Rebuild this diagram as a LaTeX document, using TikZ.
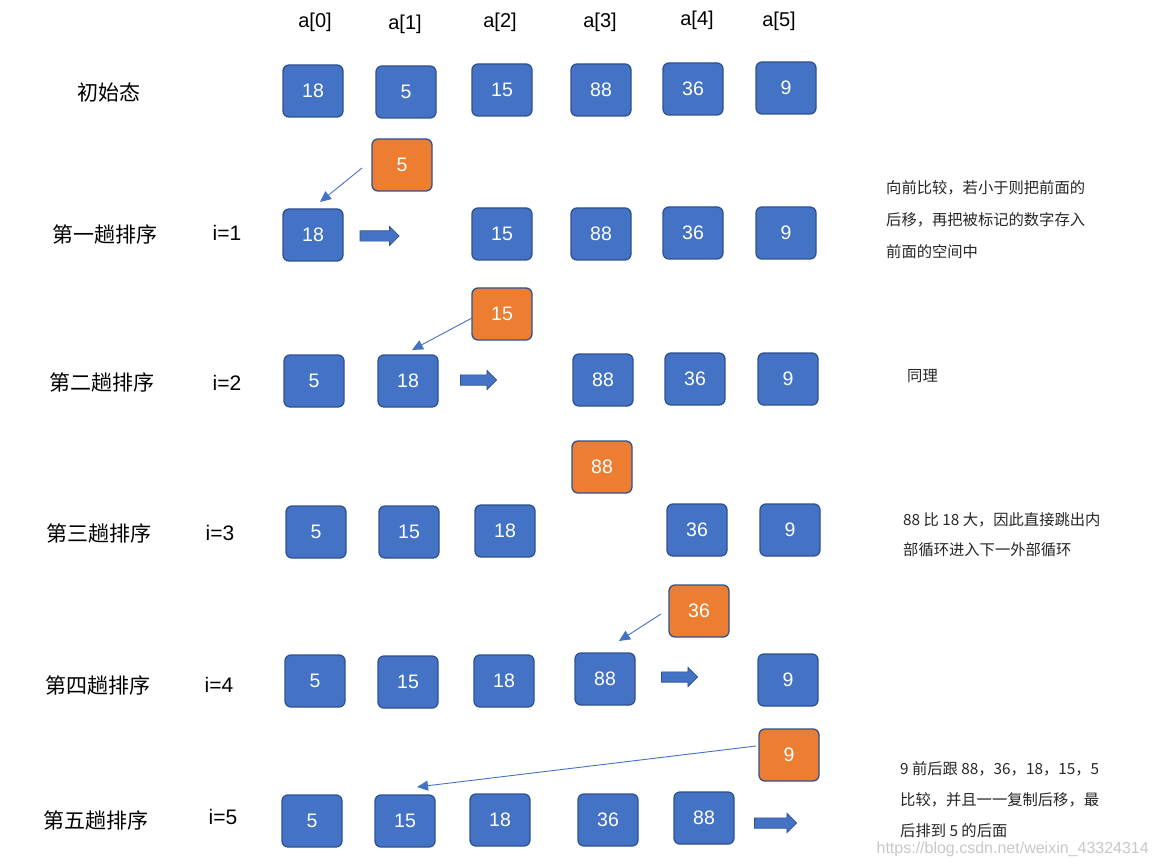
\documentclass[tikz,border=0pt]{standalone}
\usepackage{fontspec}
\setmainfont{Liberation Sans}
\newfontfamily\cjk{Noto Sans CJK SC}
\usetikzlibrary{arrows.meta,shapes.arrows}
\definecolor{boxblue}{HTML}{4472C4}
\definecolor{boxedge}{HTML}{2F528F}
\definecolor{boxorange}{HTML}{ED7D31}
\definecolor{wmgray}{HTML}{C8C8C8}
\tikzset{
  cell/.style={draw=boxedge, line width=1.3pt, fill=boxblue, rounded corners=6pt,
    minimum width=60pt, minimum height=52pt, inner sep=0pt, text=white,
    font=\fontsize{19.5}{22}\selectfont},
  hilite/.style={cell, fill=boxorange},
  fatarrow/.style={single arrow, draw=boxedge, line width=0.7pt, fill=boxblue,
    inner xsep=0pt, inner ysep=4.8pt, single arrow head extend=4.5pt,
    single arrow head indent=0pt, minimum height=#1},
  thinarr/.style={draw=boxblue, line width=0.9pt, -{Triangle[length=11pt,width=10pt]}},
  idx/.style={font=\fontsize{20}{24}\selectfont},
  rowlabel/.style={font=\cjk\fontsize{21}{24}\selectfont},
  ilabel/.style={font=\fontsize{21}{24}\selectfont},
  note/.style={anchor=west, inner sep=0pt, font=\cjk\fontsize{15.3}{18}\selectfont, text=black!85},
  watermark/.style={text=wmgray, font=\fontsize{16}{18}\selectfont}
}
\begin{document}
\begin{tikzpicture}[x=1pt,y=-1pt]
\useasboundingbox[fill=white] (0,0) rectangle (1158,866);

% index labels
\node[idx] (a0) at (315,22) {a[0]};
\node[idx] (a1) at (405,24) {a[1]};
\node[idx] (a2) at (500,22) {a[2]};
\node[idx] (a3) at (600,22) {a[3]};
\node[idx] (a4) at (697,20) {a[4]};
\node[idx] (a5) at (779,21) {a[5]};

% row labels
\node[rowlabel] (l0) at (109,92) {初始态};
\node[rowlabel] (l1) at (105,235) {第一趟排序};
\node[rowlabel] (l2) at (102,382) {第二趟排序};
\node[rowlabel] (l3) at (99,533) {第三趟排序};
\node[rowlabel] (l4) at (98,685) {第四趟排序};
\node[rowlabel] (l5) at (96,820) {第五趟排序};

\node[ilabel] (i1) at (227,233) {i=1};
\node[ilabel] (i2) at (227,383) {i=2};
\node[ilabel] (i3) at (220,533) {i=3};
\node[ilabel] (i4) at (219,685) {i=4};
\node[ilabel] (i5) at (223,817) {i=5};

% row 0
\node[cell] (r0c0) at (313,91) {18};
\node[cell] (r0c1) at (406,92) {5};
\node[cell] (r0c2) at (502,90) {15};
\node[cell] (r0c3) at (601,90) {88};
\node[cell] (r0c4) at (693,89) {36};
\node[cell] (r0c5) at (786,88) {9};

% row 1
\node[hilite] (o1) at (402,165) {5};
\node[cell] (r1c0) at (313,235) {18};
\node[fatarrow=39pt] (f1) at (377,236) {};
\node[cell] (r1c2) at (502,234) {15};
\node[cell] (r1c3) at (601,234) {88};
\node[cell] (r1c4) at (693,233) {36};
\node[cell] (r1c5) at (786,233) {9};
\coordinate (s1) at (362,168);
\coordinate (e1) at (320,202);
\draw[thinarr] (s1) -- (e1);

% row 2
\node[hilite] (o2) at (502,314) {15};
\node[cell] (r2c0) at (314,381) {5};
\node[cell] (r2c1) at (408,381) {18};
\node[fatarrow=36pt] (f2) at (476,380) {};
\node[cell] (r2c3) at (603,380) {88};
\node[cell] (r2c4) at (695,379) {36};
\node[cell] (r2c5) at (788,379) {9};
\coordinate (s2) at (472,318);
\coordinate (e2) at (412,350);
\draw[thinarr] (s2) -- (e2);

% row 3
\node[hilite] (o3) at (602,467) {88};
\node[cell] (r3c0) at (316,532) {5};
\node[cell] (r3c1) at (409,532) {15};
\node[cell] (r3c2) at (505,531) {18};
\node[cell] (r3c4) at (697,530) {36};
\node[cell] (r3c5) at (790,530) {9};

% row 4
\node[hilite] (o4) at (699,611) {36};
\node[cell] (r4c0) at (315,681) {5};
\node[cell] (r4c1) at (408,682) {15};
\node[cell] (r4c2) at (504,681) {18};
\node[cell] (r4c3) at (605,679) {88};
\node[fatarrow=36pt] (f4) at (677,677) {};
\node[cell] (r4c5) at (788,680) {9};
\coordinate (s4) at (661,614);
\coordinate (e4) at (619,641);
\draw[thinarr] (s4) -- (e4);

% row 5
\node[hilite] (o5) at (789,755) {9};
\node[cell] (r5c0) at (312,821) {5};
\node[cell] (r5c1) at (405,821) {15};
\node[cell] (r5c2) at (500,820) {18};
\node[cell] (r5c3) at (608,820) {36};
\node[cell] (r5c4) at (704,818) {88};
\node[fatarrow=42pt] (f5) at (773,823) {};
\coordinate (s5) at (756,746);
\coordinate (e5) at (417,787);
\draw[thinarr] (s5) -- (e5);

% notes
\node[note] (n1a) at (886,188) {向前比较，若小于则把前面的};
\node[note] (n1b) at (886,220) {后移，再把被标记的数字存入};
\node[note] (n1c) at (886,252) {前面的空间中};
\node[note] (n2) at (907,376) {同理};
\node[note] (n3a) at (903,520) {88 比 18 大，因此直接跳出内};
\node[note] (n3b) at (903,550) {部循环进入下一外部循环};
\node[note] (n5a) at (900,769) {9 前后跟 88，36，18，15，5};
\node[note] (n5b) at (900,800) {比较，并且一一复制后移，最};
\node[note] (n5c) at (900,831) {后排到 5 的后面};

\node[watermark, anchor=east, inner sep=0pt] (wm) at (1149,849) {https://blog.csdn.net/weixin\_43324314};
\end{tikzpicture}
\end{document}
